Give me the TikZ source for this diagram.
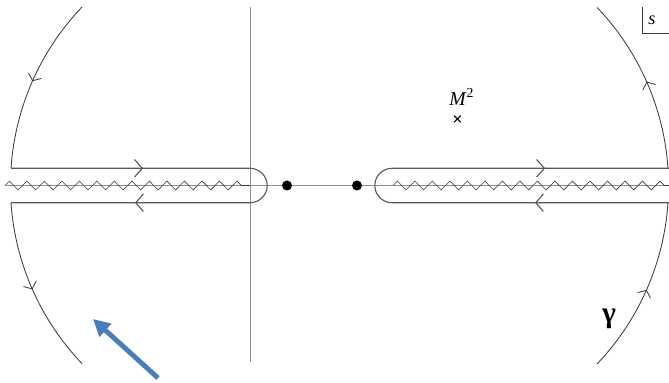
\documentclass[tikz,border=0pt]{standalone}
\usepackage{fontspec}
\setmainfont{Liberation Serif}
\usetikzlibrary{arrows.meta,decorations.pathmorphing,decorations.markings}
\definecolor{ink}{HTML}{3C3C3C}
\definecolor{axisc}{HTML}{8E8E8E}
\definecolor{pointer}{HTML}{4A7EBB}

\begin{document}
\begin{tikzpicture}[x=0.025cm,y=0.025cm,
  axis/.style={draw=axisc,line width=0.5pt},
  cut/.style={draw=ink,line width=0.45pt,decorate,decoration={zigzag,segment length=0.4375cm,amplitude=0.11cm}},
  contour/.style={draw=ink!85,line width=0.8pt},
  bigarc/.style={draw=ink,line width=0.6pt},
  barb/.style={postaction={decorate,decoration={markings,mark=at position #1 with {\arrow{Straight Barb[length=5.5pt,width=12.5pt]}}}}},
  arcbarb/.style={postaction={decorate,decoration={markings,mark=at position #1 with {\arrow{Straight Barb[length=4pt,width=10pt]}}}}},
  dot/.style={circle,fill=black,minimum size=0.25cm,inner sep=0pt}]
\useasboundingbox (0,0) rectangle (669,382);
% axes
\draw[axis] (5,196.5) -- (669,196.5);
\draw[axis] (250,20) -- (250,375);
% branch cuts
\draw[cut] (5,196.5) -- (250,196.5);
\draw[cut] (393,196.5) -- (669,196.5);
% branch points
\node[dot] (bp1) at (287,196.5) {};
\node[dot] (bp2) at (357,196.5) {};
% keyholes
\draw[contour,barb=3.3cm,barb=10.2cm] (11,213.7) -- (250,213.7)
  arc[start angle=90,end angle=-90,radius=17.2] -- (11,179.3);
\draw[contour,barb=3.35cm,barb=12.1cm] (669,179.3) -- (392,179.3)
  arc[start angle=270,end angle=90,radius=17.2] -- (669,213.7);
% large circle
\draw[bigarc,arcbarb=0.5] (82,375) arc[start angle=136.3,end angle=176.1,radius=258.3];
\draw[bigarc,arcbarb=0.5] (11,179.3) arc[start angle=183.9,end angle=223.7,radius=258.3];
\draw[bigarc,arcbarb=0.5] (597,18) arc[start angle=-43.7,end angle=-3.9,radius=258.3];
\draw[bigarc,arcbarb=0.5] (668,213.7) arc[start angle=3.9,end angle=43.7,radius=258.3];
% labels
\node[font=\fontsize{14}{16}\selectfont] (mass) at (461.7,285) {\textit{M}\textsuperscript{2}};
\node[font=\fontsize{13}{15}\selectfont\bfseries] (pole) at (457.5,261.5) {×};
\draw[ink,line width=0.5pt] (642,375) -- (642,349) -- (669,349);
\node[font=\fontsize{13}{15}\selectfont\itshape] (plane) at (652,362) {s};
\node[font=\fontsize{21}{23}\selectfont\bfseries] (gam) at (609,63) {γ};
% pointer
\coordinate (tail) at (158,4);
\coordinate (head) at (93,63);
\draw[pointer,line width=3.5pt,-{Triangle[length=12pt,width=12pt]}] (tail) -- (head);
\end{tikzpicture}
\end{document}
